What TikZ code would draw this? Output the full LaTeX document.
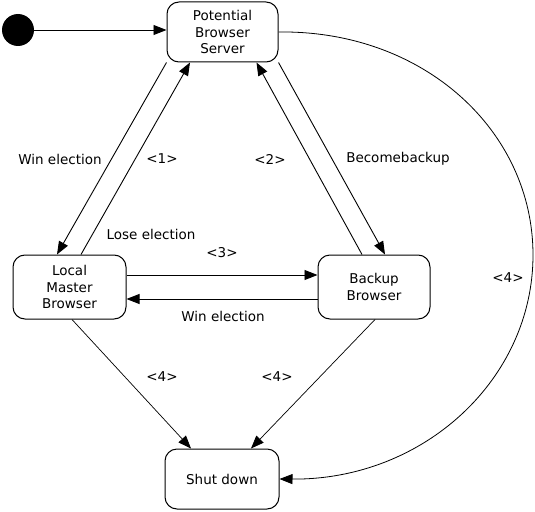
\documentclass[tikz,border=0pt]{standalone}
\usepackage{fontspec}
\setmainfont{DejaVu Sans}
\usetikzlibrary{arrows.meta}
\begin{document}
\begin{tikzpicture}[x = 1pt, y = -1pt, font = \fontsize{13.5}{16.5}\selectfont,
	state/.style = {draw, rounded corners = 12pt, align = center, inner sep = 0pt, line width = 1pt},
	trans/.style = {-{Triangle[length = 13pt, width = 10pt]}, line width = 0.9pt},
	lbl/.style = {inner sep = 0pt}]
	\useasboundingbox (0, 0) rectangle (535, 511);
	
	%	states
	\node[circle, fill, minimum size = 32pt, inner sep = 0pt] (init) at (18, 30) {};
	\node[state, minimum width = 111pt, minimum height = 60pt] (pbs) at (222.5, 32) {Potential\\Browser\\Server};
	\node[state, minimum width = 113pt, minimum height = 64pt] (lmb) at (69.5, 287) {Local\\Master\\Browser};
	\node[state, minimum width = 112pt, minimum height = 64pt] (bb) at (374, 287) {Backup\\Browser};
	\node[state, minimum width = 114pt, minimum height = 60pt] (sd) at (222, 479) {Shut down};
	
	%	transitions
	\draw[trans] (init) -- (init -| pbs.west);
	\draw[trans] (pbs.south west) -- ([xshift = -12.5pt]lmb.north);
	\draw[trans] ([xshift = 11.5pt]lmb.north) -- ([xshift = 23.5pt]pbs.south west);
	\draw[trans] (pbs.south east) -- ([xshift = 11pt]bb.north);
	\draw[trans] ([xshift = -12pt]bb.north) -- ([xshift = -22pt]pbs.south east);
	\draw[trans] ([yshift = 12pt]lmb.east) -- ([yshift = 12pt]bb.west);
	\draw[trans] ([yshift = -12pt]bb.west) -- ([yshift = -12pt]lmb.east);
	\draw[trans, line width = 0.7pt] ([xshift = 2.5pt]lmb.south) -- ([xshift = -31pt]sd.north);
	\draw[trans, line width = 0.7pt] ([xshift = 1pt]bb.south) -- ([xshift = 29pt]sd.north);
	
	%	boog naar shut down
	\coordinate (far) at (533, 255);
	\draw[trans, line width = 0.8pt] (pbs.east) .. controls (424, 30) and (533, 131) .. (far) .. controls (533, 379) and (424, 480) .. (sd.east);
	
	%	labels
	\node[lbl] (winl) at (60, 159) {Win election};
	\node[lbl] (one) at (162, 159) {<1>};
	\node[lbl] (two) at (270, 159) {<2>};
	\node[lbl] (becb) at (398, 159) {Becomebackup};
	\node[lbl] (lose) at (151, 234) {Lose election};
	\node[lbl] (three) at (222, 253) {<3>};
	\node[lbl] (winb) at (223, 316) {Win election};
	\node[lbl] (fourl) at (162, 377) {<4>};
	\node[lbl] (fourm) at (277, 377) {<4>};
	\node[lbl] (fourr) at (508, 278) {<4>};
\end{tikzpicture}
\end{document}
